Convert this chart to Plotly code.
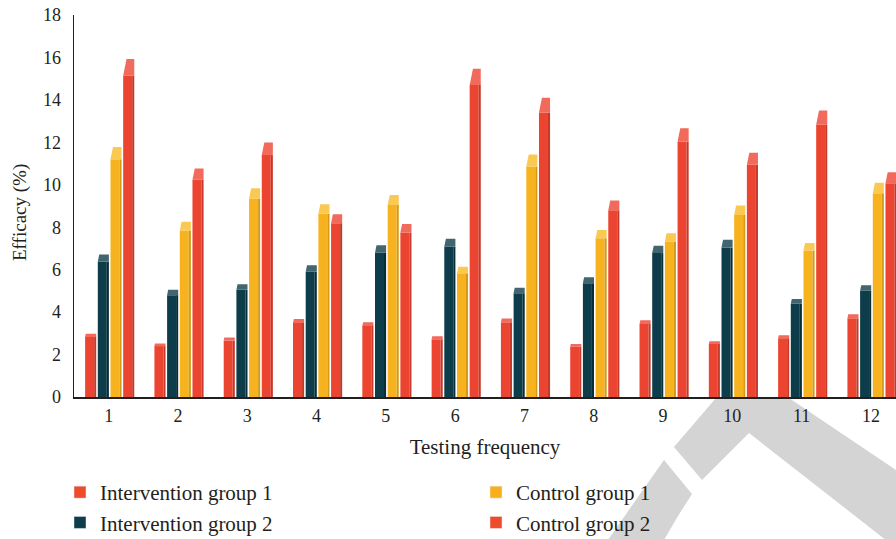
import plotly.graph_objects as go

# ---------------- data ----------------
categories = list(range(1, 13))
tick_labels = [str(c) for c in categories]
series_names = ["Intervention group 1", "Intervention group 2", "Control group 1", "Control group 2"]
intervention_1 = [2.83, 2.40, 2.66, 3.49, 3.35, 2.72, 3.52, 2.37, 3.44, 2.50, 2.77, 3.71]
intervention_2 = [6.38, 4.80, 5.05, 5.90, 6.80, 7.09, 4.89, 5.36, 6.78, 7.04, 4.39, 5.01]
control_1 = [11.20, 7.85, 9.35, 8.63, 9.05, 5.83, 10.86, 7.48, 7.33, 8.58, 6.90, 9.60]
control_2 = [15.14, 10.24, 11.40, 8.19, 7.75, 14.70, 13.40, 8.80, 12.04, 10.94, 12.83, 10.07]
y_ticks = list(range(0, 19, 2))
x_title = "Testing frequency"
y_title = "Efficacy (%)"

# ---------------- styles ----------------
front_colors = ["#EB4430", "#0D3D4A", "#F6B31F", "#EB4430"]
cap_colors = ["#F16A5C", "#41666F", "#F9C954", "#F16A5C"]
side_colors = ["#C5392A", "#072D37", "#D49A17", "#C5392A"]
legend_colors = ["#EE4B2B", "#0D3D4A", "#F9AE1B", "#EE4B2B"]
legend_ids = ["legend", "legend", "legend2", "legend2"]
FONT = "Liberation Serif"
TXT = "#231F20"

SLOT = 0.183      # distance between bars in a group (x units)
FRONT_W = 0.13    # width of the front face
SIDE_W = 0.03     # width of the shaded side face
CAP_RATIO = 0.052 # relative height of the visible top face
SLANT = 0.0032    # shear of the top face

series_values = [intervention_1, intervention_2, control_1, control_2]

fig = go.Figure()
for i, (name, vals) in enumerate(zip(series_names, series_values)):
    xf = [c + (i - 1.5) * SLOT for c in categories]
    # front face
    fig.add_trace(go.Bar(
        x=xf, y=vals, width=FRONT_W, name=name,
        marker=dict(color=front_colors[i], line=dict(width=0)),
        showlegend=False, hoverinfo="skip",
    ))
    # side face
    fig.add_trace(go.Bar(
        x=[x + FRONT_W / 2 + SIDE_W / 2 for x in xf], y=vals, width=SIDE_W,
        marker=dict(color=side_colors[i], line=dict(width=0)),
        showlegend=False, hoverinfo="skip",
    ))
    # top faces
    px, py = [], []
    for x, v in zip(xf, vals):
        xl = x - FRONT_W / 2
        xr = x + FRONT_W / 2 + SIDE_W
        top = v * (1 + CAP_RATIO)
        px += [xl, xr, xr, xl + SLANT * v, xl, None]
        py += [v, v, top, top, v, None]
    fig.add_trace(go.Scatter(
        x=px, y=py, mode="lines", fill="toself", fillcolor=cap_colors[i],
        line=dict(width=0, color=cap_colors[i]), showlegend=False, hoverinfo="skip",
    ))

# legend-only entries (flat colours)
for i, name in enumerate(series_names):
    fig.add_trace(go.Bar(
        x=[None], y=[None], name=name, marker=dict(color=legend_colors[i]),
        legend=legend_ids[i], legendgroup=name, showlegend=True,
    ))

# ---------------- watermark decoration (pixel -> paper) ----------------
L, T, PW, PH = 74, 15, 822, 382

def pp(x, y):
    return (x - L) / PW, (T + PH - y) / PH

def path(points):
    pts = [pp(x, y) for x, y in points]
    return "M" + "L".join(f"{a:.4f},{b:.4f}" for a, b in pts) + "Z"

wm_a = [(716, 398), (789, 398), (896, 470), (896, 548), (749, 433), (702, 480), (674, 447)]
wm_b = [(664, 460), (692, 494), (678, 516), (664, 540), (608, 540), (638, 497)]
shapes = [
    dict(type="path", path=path(p), xref="paper", yref="paper",
         fillcolor="#D4D4D4", line=dict(width=0), layer="below")
    for p in (wm_a, wm_b)
]

ytx, yty = pp(20, 213)

fig.update_layout(
    width=896, height=539,
    margin=dict(l=L, r=0, t=T, b=539 - T - PH, autoexpand=False),
    barmode="overlay",
    paper_bgcolor="white", plot_bgcolor="white",
    font=dict(family=FONT, color=TXT, size=18),
    shapes=shapes,
    annotations=[dict(
        text=y_title, xref="paper", yref="paper", x=ytx, y=yty,
        xanchor="center", yanchor="middle", textangle=-90, showarrow=False,
        font=dict(family=FONT, size=19, color=TXT),
    )],
    legend=dict(
        orientation="v", xref="container", yref="container",
        x=60 / 896, y=1 - 472 / 539, xanchor="left", yanchor="top",
        font=dict(family=FONT, size=21, color=TXT), bgcolor="rgba(0,0,0,0)",
        tracegroupgap=0,
    ),
    legend2=dict(
        orientation="v", xref="container", yref="container",
        x=476 / 896, y=1 - 472 / 539, xanchor="left", yanchor="top",
        font=dict(family=FONT, size=21, color=TXT), bgcolor="rgba(0,0,0,0)",
        tracegroupgap=0,
    ),
    xaxis=dict(
        range=[0.5, 0.5 + PW / 69.3], tickvals=categories, ticktext=tick_labels,
        showline=True, linecolor=TXT, linewidth=1.5, showgrid=False, zeroline=False,
        ticks="", ticklabelstandoff=2, tickfont=dict(size=18),
        title=dict(text=x_title, font=dict(size=21), standoff=14),
        fixedrange=True, automargin=True,
    ),
    yaxis=dict(
        range=[0, 18], tickvals=y_ticks, showline=True, linecolor=TXT, linewidth=1.5,
        showgrid=False, zeroline=False, ticks="", ticklabelstandoff=8,
        tickfont=dict(size=18), fixedrange=True, automargin=True,
    ),
    showlegend=True,
)

fig.write_html(
    "out.html",
    config={"displayModeBar": False, "staticPlot": True},
    post_script="document.body.style.margin='0';document.body.style.padding='0';",
)
